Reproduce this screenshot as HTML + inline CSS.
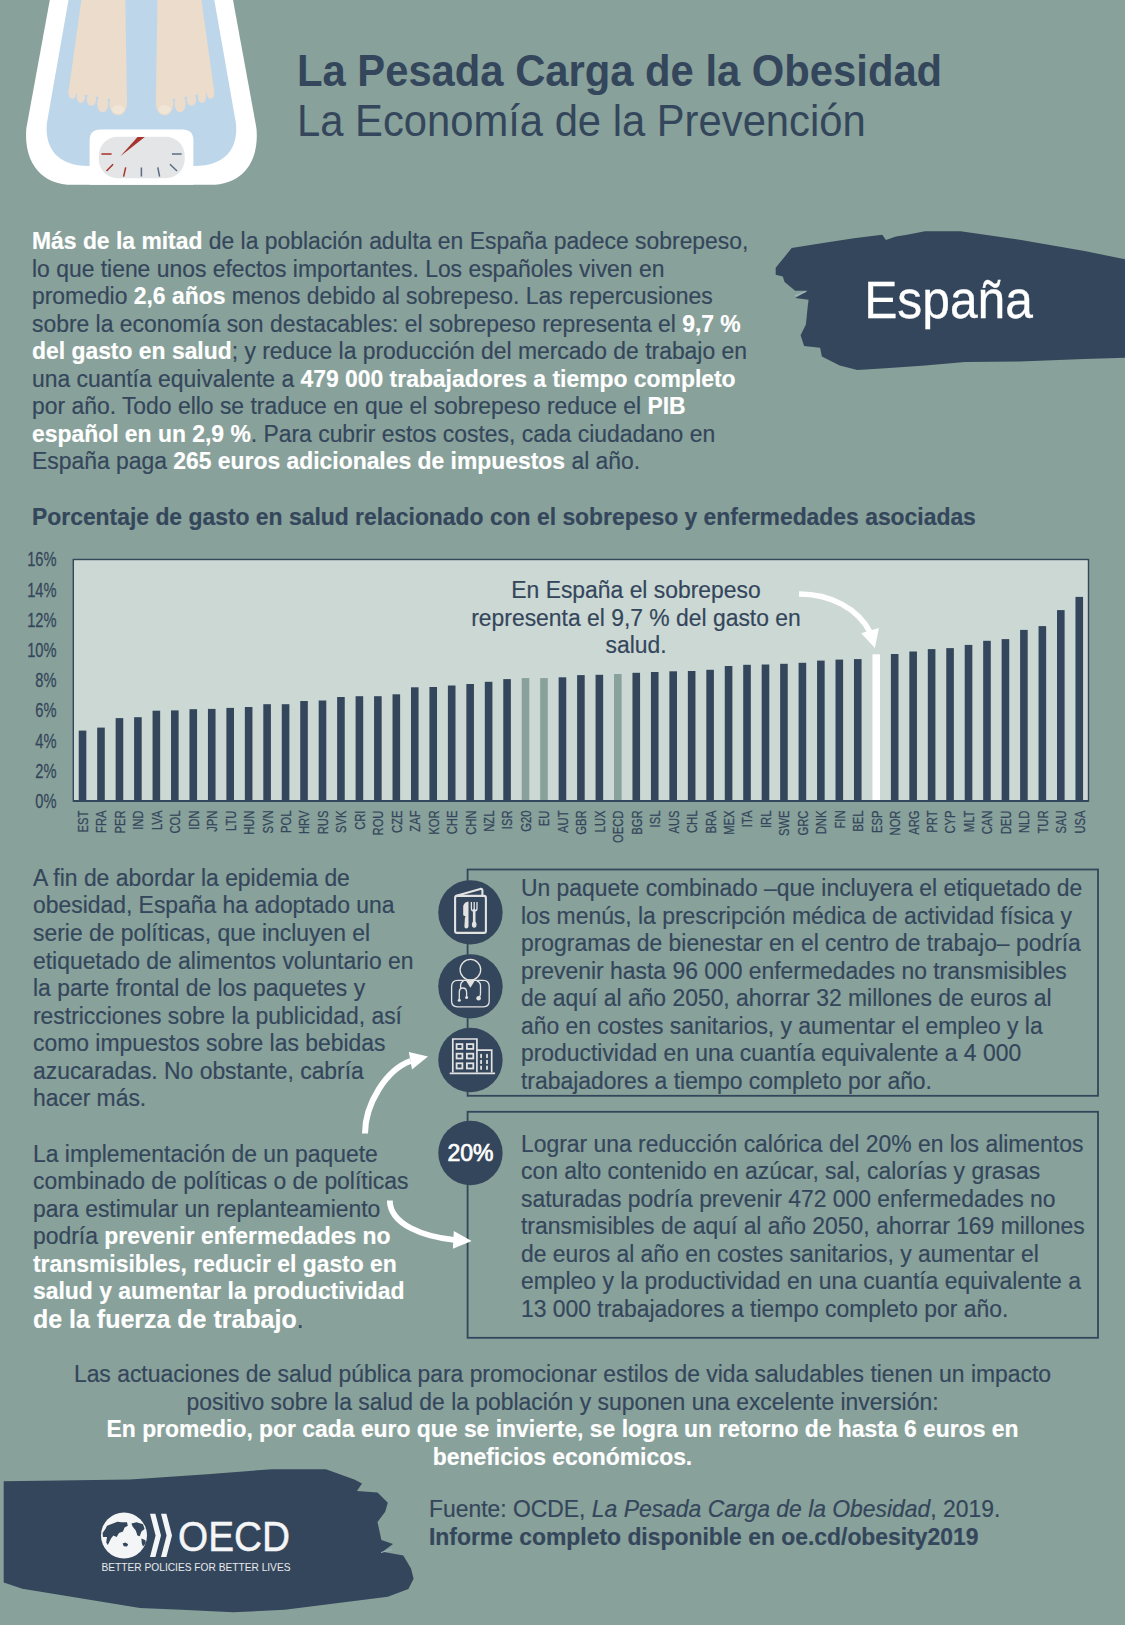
<!DOCTYPE html>
<html lang="es">
<head>
<meta charset="utf-8">
<title>La Pesada Carga de la Obesidad - España</title>
<style>
html,body{margin:0;padding:0;}
body{width:1125px;height:1625px;overflow:hidden;background:#88a19a;position:relative;font-family:"Liberation Sans",Arial,sans-serif;color:#34465b;}
.abs{position:absolute;}
b,.w{color:#fff;font-weight:bold;}
.sx{transform:scaleX(0.939);transform-origin:0 0;}
.sxt{transform:scaleX(0.924) !important;}
#t1{left:297px;top:46.2px;font-size:45.2px;font-weight:bold;white-space:nowrap;line-height:50px;}
#t2{left:297px;top:95.9px;font-size:45.2px;white-space:nowrap;line-height:50px;}
.p{font-size:24.39px;line-height:27.5px;white-space:nowrap;-webkit-text-stroke:0.2px currentColor;}
#p1{left:32.3px;top:227.4px;}
#ctitle{left:32.2px;top:503px;font-size:24.39px;line-height:27.5px;font-weight:bold;white-space:nowrap;}
#p2{left:33px;top:863.9px;line-height:27.55px;}
#p3{left:33px;top:1139.7px;line-height:27.5px;}
#bt1{left:520.5px;top:874px;}
#bt2{left:520.5px;top:1129.7px;}
#bottom,#src,#ctitle,.ann{-webkit-text-stroke:0.2px currentColor;}
#bottom{left:0;width:1125px;top:1360px;text-align:center;font-size:24.39px;line-height:27.5px;transform-origin:562.5px 0;}
#src{left:429px;top:1495.3px;font-size:24.39px;line-height:27.4px;white-space:nowrap;}
.ann{transform-origin:200px 0 !important;}
.yl{font-size:19.3px;fill:#34465b;stroke:#34465b;stroke-width:0.25px;font-family:"Liberation Sans",Arial,sans-serif;}
.xl{font-size:15px;fill:#34465b;stroke:#34465b;stroke-width:0.25px;font-family:"Liberation Sans",Arial,sans-serif;}
</style>
</head>
<body>
<!-- scale illustration -->
<svg class="abs" style="left:0;top:0" width="280" height="200" viewBox="0 0 280 200">
  <path d="M49.8,0 L233,0 L256.4,128 C259.5,160 244,184.8 210,184.8 L73,184.8 C39,184.8 23.5,160 26.4,128 Z" fill="#fff"/>
  <path d="M68.5,0 L214.3,0 L235.9,123 C238.5,148 226,166 194,166 L89,166 C57,166 44.5,148 46.9,123 Z" fill="#bed6ea"/>
  <g id="foot" fill="#ebdccb">
    <path d="M157.5,0 L201.4,0 L214.3,92 L155.8,102 Z"/>
    <ellipse cx="164.6" cy="104" rx="8.8" ry="11.2"/>
    <ellipse cx="180.1" cy="103.5" rx="5.6" ry="8.8"/>
    <ellipse cx="191.4" cy="99.3" rx="4.7" ry="6.5"/>
    <ellipse cx="202" cy="96.8" rx="4.1" ry="6.2"/>
    <ellipse cx="210.5" cy="93.2" rx="3.8" ry="5.6"/>
    <ellipse cx="164.6" cy="109.5" rx="6.2" ry="4.2" fill="#f1e5d8"/>
  </g>
  <use href="#foot" transform="translate(282.8,0) scale(-1,1)"/>
  <path d="M89.6,184.8 V140.6 Q89.6,129.6 100.6,129.6 H182.4 Q193.4,129.6 193.4,140.6 V184.8 Z" fill="#fff"/>
  <rect x="98.8" y="136.8" width="85.9" height="41.4" rx="19" fill="#e4e5e7"/>
  <g stroke-width="1.5" stroke-linecap="butt">
    <path d="M101.4,154.1 H111.6 M106.5,171 L113.1,164.2 M123.6,176.6 L125.7,167.4" stroke="#a8322d"/>
    <path d="M141.4,176.6 V167.4 M159.6,176.6 L157.8,167.4 M177,171 L170,164.2 M171.9,154.1 H181.6" stroke="#5b6d84"/>
  </g>
  <path d="M120.3,156.2 L137.6,136.9 L144.8,136.9 Z" fill="#a8322d"/>
</svg>

<div id="t1" class="abs sx sxt">La Pesada Carga de la Obesidad</div>
<div id="t2" class="abs sx sxt">La Economía de la Prevención</div>


<!-- España brush -->
<svg class="abs" style="left:760px;top:225px" width="365" height="150" viewBox="760 225 365 150">
  <path fill="#34465b" d="M791.7,248.1 L818.3,243.7 L853.9,238.3 L882.3,234.8 L885.9,240.1 L896,236.5 L907.2,234.8 L925,231.2 L960.6,231.2 L1019.6,239.7 L1084.5,251.1 L1125,259.2 L1125,357.8 L1084.5,359 L1019.6,361.6 L965,361.9 L925,365.4 L889.4,368.1 L857.4,369.9 L839.7,365.4 L821.9,356.6 L820.1,347.7 L804.1,345.9 L800.6,335.2 L805.9,324.6 L807.7,306.8 L808.6,299.7 L795.2,297.9 L807.7,290.8 L795.2,290.8 L784.6,281.9 L782.8,276.6 L775.7,274.8 L775.7,267.7 Z"/>
  <path d="M795,296 L806,291.5" stroke="#aebfc9" stroke-width="1"/>
</svg>
<div class="abs" style="left:864px;top:269.8px;font-size:52.4px;line-height:60px;color:#fff;white-space:nowrap;transform:scaleX(0.949);transform-origin:4px 0;-webkit-text-stroke:0.35px #fff;">España</div>

<div id="p1" class="abs sx p"><b>Más de la mitad</b> de la población adulta en España padece sobrepeso,<br>lo que tiene unos efectos importantes. Los españoles viven en<br>promedio <b>2,6 años</b> menos debido al sobrepeso. Las repercusiones<br>sobre la economía son destacables: el sobrepeso representa el <b>9,7 %</b><br><b>del gasto en salud</b>; y reduce la producción del mercado de trabajo en<br>una cuantía equivalente a <b>479 000 trabajadores a tiempo completo</b><br>por año. Todo ello se traduce en que el sobrepeso reduce el <b>PIB</b><br><b>español en un 2,9 %</b>. Para cubrir estos costes, cada ciudadano en<br>España paga <b>265 euros adicionales de impuestos</b> al año.</div>

<!--CHART-->
<svg class="abs" style="left:0;top:540px" width="1125" height="310" viewBox="0 540 1125 310">
<rect x="73.30" y="559.50" width="1015.20" height="241.50" fill="#ccd8d4" stroke="#34465b" stroke-width="1.4"/>
<rect x="78.73" y="730.6" width="7.6" height="70.4" fill="#34465b"/>
<rect x="97.19" y="727.6" width="7.6" height="73.4" fill="#34465b"/>
<rect x="115.65" y="718.1" width="7.6" height="82.9" fill="#34465b"/>
<rect x="134.10" y="717.2" width="7.6" height="83.8" fill="#34465b"/>
<rect x="152.56" y="710.7" width="7.6" height="90.3" fill="#34465b"/>
<rect x="171.02" y="710.4" width="7.6" height="90.6" fill="#34465b"/>
<rect x="189.48" y="709.2" width="7.6" height="91.8" fill="#34465b"/>
<rect x="207.94" y="708.9" width="7.6" height="92.1" fill="#34465b"/>
<rect x="226.39" y="707.9" width="7.6" height="93.1" fill="#34465b"/>
<rect x="244.85" y="707.0" width="7.6" height="94.0" fill="#34465b"/>
<rect x="263.31" y="704.2" width="7.6" height="96.8" fill="#34465b"/>
<rect x="281.77" y="704.2" width="7.6" height="96.8" fill="#34465b"/>
<rect x="300.23" y="701.0" width="7.6" height="100.0" fill="#34465b"/>
<rect x="318.69" y="700.5" width="7.6" height="100.5" fill="#34465b"/>
<rect x="337.14" y="697.0" width="7.6" height="104.0" fill="#34465b"/>
<rect x="355.60" y="696.2" width="7.6" height="104.8" fill="#34465b"/>
<rect x="374.06" y="696.2" width="7.6" height="104.8" fill="#34465b"/>
<rect x="392.52" y="694.3" width="7.6" height="106.7" fill="#34465b"/>
<rect x="410.98" y="687.3" width="7.6" height="113.7" fill="#34465b"/>
<rect x="429.43" y="687.0" width="7.6" height="114.0" fill="#34465b"/>
<rect x="447.89" y="685.5" width="7.6" height="115.5" fill="#34465b"/>
<rect x="466.35" y="684.0" width="7.6" height="117.0" fill="#34465b"/>
<rect x="484.81" y="681.8" width="7.6" height="119.2" fill="#34465b"/>
<rect x="503.27" y="679.1" width="7.6" height="121.9" fill="#34465b"/>
<rect x="521.73" y="678.1" width="7.6" height="122.9" fill="#88a19a"/>
<rect x="540.18" y="678.1" width="7.6" height="122.9" fill="#88a19a"/>
<rect x="558.64" y="677.3" width="7.6" height="123.7" fill="#34465b"/>
<rect x="577.10" y="675.1" width="7.6" height="125.9" fill="#34465b"/>
<rect x="595.56" y="674.8" width="7.6" height="126.2" fill="#34465b"/>
<rect x="614.02" y="674.0" width="7.6" height="127.0" fill="#88a19a"/>
<rect x="632.47" y="672.8" width="7.6" height="128.2" fill="#34465b"/>
<rect x="650.93" y="672.0" width="7.6" height="129.0" fill="#34465b"/>
<rect x="669.39" y="671.3" width="7.6" height="129.7" fill="#34465b"/>
<rect x="687.85" y="671.0" width="7.6" height="130.0" fill="#34465b"/>
<rect x="706.31" y="669.8" width="7.6" height="131.2" fill="#34465b"/>
<rect x="724.77" y="666.0" width="7.6" height="135.0" fill="#34465b"/>
<rect x="743.22" y="664.8" width="7.6" height="136.2" fill="#34465b"/>
<rect x="761.68" y="664.5" width="7.6" height="136.5" fill="#34465b"/>
<rect x="780.14" y="663.8" width="7.6" height="137.2" fill="#34465b"/>
<rect x="798.60" y="662.8" width="7.6" height="138.2" fill="#34465b"/>
<rect x="817.06" y="660.6" width="7.6" height="140.4" fill="#34465b"/>
<rect x="835.51" y="659.6" width="7.6" height="141.4" fill="#34465b"/>
<rect x="853.97" y="659.1" width="7.6" height="141.9" fill="#34465b"/>
<rect x="872.43" y="654.3" width="7.6" height="146.7" fill="#ffffff"/>
<rect x="890.89" y="654.0" width="7.6" height="147.0" fill="#34465b"/>
<rect x="909.35" y="651.5" width="7.6" height="149.5" fill="#34465b"/>
<rect x="927.81" y="649.1" width="7.6" height="151.9" fill="#34465b"/>
<rect x="946.26" y="648.1" width="7.6" height="152.9" fill="#34465b"/>
<rect x="964.72" y="644.9" width="7.6" height="156.1" fill="#34465b"/>
<rect x="983.18" y="640.8" width="7.6" height="160.2" fill="#34465b"/>
<rect x="1001.64" y="639.1" width="7.6" height="161.9" fill="#34465b"/>
<rect x="1020.10" y="629.9" width="7.6" height="171.1" fill="#34465b"/>
<rect x="1038.55" y="626.1" width="7.6" height="174.9" fill="#34465b"/>
<rect x="1057.01" y="610.1" width="7.6" height="190.9" fill="#34465b"/>
<rect x="1075.47" y="596.9" width="7.6" height="204.1" fill="#34465b"/>
<line x1="73.30" y1="801.00" x2="1088.50" y2="801.00" stroke="#34465b" stroke-width="1.8"/>
<text transform="translate(56.5 807.90) scale(0.76 1)" text-anchor="end" class="yl">0%</text>
<text transform="translate(56.5 777.71) scale(0.76 1)" text-anchor="end" class="yl">2%</text>
<text transform="translate(56.5 747.52) scale(0.76 1)" text-anchor="end" class="yl">4%</text>
<text transform="translate(56.5 717.34) scale(0.76 1)" text-anchor="end" class="yl">6%</text>
<text transform="translate(56.5 687.15) scale(0.76 1)" text-anchor="end" class="yl">8%</text>
<text transform="translate(56.5 656.96) scale(0.76 1)" text-anchor="end" class="yl">10%</text>
<text transform="translate(56.5 626.77) scale(0.76 1)" text-anchor="end" class="yl">12%</text>
<text transform="translate(56.5 596.59) scale(0.76 1)" text-anchor="end" class="yl">14%</text>
<text transform="translate(56.5 566.40) scale(0.76 1)" text-anchor="end" class="yl">16%</text>
<text transform="translate(87.93 810.5) rotate(-90) scale(0.75 1)" text-anchor="end" class="xl">EST</text>
<text transform="translate(106.39 810.5) rotate(-90) scale(0.75 1)" text-anchor="end" class="xl">FRA</text>
<text transform="translate(124.85 810.5) rotate(-90) scale(0.75 1)" text-anchor="end" class="xl">PER</text>
<text transform="translate(143.30 810.5) rotate(-90) scale(0.75 1)" text-anchor="end" class="xl">IND</text>
<text transform="translate(161.76 810.5) rotate(-90) scale(0.75 1)" text-anchor="end" class="xl">LVA</text>
<text transform="translate(180.22 810.5) rotate(-90) scale(0.75 1)" text-anchor="end" class="xl">COL</text>
<text transform="translate(198.68 810.5) rotate(-90) scale(0.75 1)" text-anchor="end" class="xl">IDN</text>
<text transform="translate(217.14 810.5) rotate(-90) scale(0.75 1)" text-anchor="end" class="xl">JPN</text>
<text transform="translate(235.59 810.5) rotate(-90) scale(0.75 1)" text-anchor="end" class="xl">LTU</text>
<text transform="translate(254.05 810.5) rotate(-90) scale(0.75 1)" text-anchor="end" class="xl">HUN</text>
<text transform="translate(272.51 810.5) rotate(-90) scale(0.75 1)" text-anchor="end" class="xl">SVN</text>
<text transform="translate(290.97 810.5) rotate(-90) scale(0.75 1)" text-anchor="end" class="xl">POL</text>
<text transform="translate(309.43 810.5) rotate(-90) scale(0.75 1)" text-anchor="end" class="xl">HRV</text>
<text transform="translate(327.89 810.5) rotate(-90) scale(0.75 1)" text-anchor="end" class="xl">RUS</text>
<text transform="translate(346.34 810.5) rotate(-90) scale(0.75 1)" text-anchor="end" class="xl">SVK</text>
<text transform="translate(364.80 810.5) rotate(-90) scale(0.75 1)" text-anchor="end" class="xl">CRI</text>
<text transform="translate(383.26 810.5) rotate(-90) scale(0.75 1)" text-anchor="end" class="xl">ROU</text>
<text transform="translate(401.72 810.5) rotate(-90) scale(0.75 1)" text-anchor="end" class="xl">CZE</text>
<text transform="translate(420.18 810.5) rotate(-90) scale(0.75 1)" text-anchor="end" class="xl">ZAF</text>
<text transform="translate(438.63 810.5) rotate(-90) scale(0.75 1)" text-anchor="end" class="xl">KOR</text>
<text transform="translate(457.09 810.5) rotate(-90) scale(0.75 1)" text-anchor="end" class="xl">CHE</text>
<text transform="translate(475.55 810.5) rotate(-90) scale(0.75 1)" text-anchor="end" class="xl">CHN</text>
<text transform="translate(494.01 810.5) rotate(-90) scale(0.75 1)" text-anchor="end" class="xl">NZL</text>
<text transform="translate(512.47 810.5) rotate(-90) scale(0.75 1)" text-anchor="end" class="xl">ISR</text>
<text transform="translate(530.93 810.5) rotate(-90) scale(0.75 1)" text-anchor="end" class="xl">G20</text>
<text transform="translate(549.38 810.5) rotate(-90) scale(0.75 1)" text-anchor="end" class="xl">EU</text>
<text transform="translate(567.84 810.5) rotate(-90) scale(0.75 1)" text-anchor="end" class="xl">AUT</text>
<text transform="translate(586.30 810.5) rotate(-90) scale(0.75 1)" text-anchor="end" class="xl">GBR</text>
<text transform="translate(604.76 810.5) rotate(-90) scale(0.75 1)" text-anchor="end" class="xl">LUX</text>
<text transform="translate(623.22 810.5) rotate(-90) scale(0.75 1)" text-anchor="end" class="xl">OECD</text>
<text transform="translate(641.67 810.5) rotate(-90) scale(0.75 1)" text-anchor="end" class="xl">BGR</text>
<text transform="translate(660.13 810.5) rotate(-90) scale(0.75 1)" text-anchor="end" class="xl">ISL</text>
<text transform="translate(678.59 810.5) rotate(-90) scale(0.75 1)" text-anchor="end" class="xl">AUS</text>
<text transform="translate(697.05 810.5) rotate(-90) scale(0.75 1)" text-anchor="end" class="xl">CHL</text>
<text transform="translate(715.51 810.5) rotate(-90) scale(0.75 1)" text-anchor="end" class="xl">BRA</text>
<text transform="translate(733.97 810.5) rotate(-90) scale(0.75 1)" text-anchor="end" class="xl">MEX</text>
<text transform="translate(752.42 810.5) rotate(-90) scale(0.75 1)" text-anchor="end" class="xl">ITA</text>
<text transform="translate(770.88 810.5) rotate(-90) scale(0.75 1)" text-anchor="end" class="xl">IRL</text>
<text transform="translate(789.34 810.5) rotate(-90) scale(0.75 1)" text-anchor="end" class="xl">SWE</text>
<text transform="translate(807.80 810.5) rotate(-90) scale(0.75 1)" text-anchor="end" class="xl">GRC</text>
<text transform="translate(826.26 810.5) rotate(-90) scale(0.75 1)" text-anchor="end" class="xl">DNK</text>
<text transform="translate(844.71 810.5) rotate(-90) scale(0.75 1)" text-anchor="end" class="xl">FIN</text>
<text transform="translate(863.17 810.5) rotate(-90) scale(0.75 1)" text-anchor="end" class="xl">BEL</text>
<text transform="translate(881.63 810.5) rotate(-90) scale(0.75 1)" text-anchor="end" class="xl">ESP</text>
<text transform="translate(900.09 810.5) rotate(-90) scale(0.75 1)" text-anchor="end" class="xl">NOR</text>
<text transform="translate(918.55 810.5) rotate(-90) scale(0.75 1)" text-anchor="end" class="xl">ARG</text>
<text transform="translate(937.01 810.5) rotate(-90) scale(0.75 1)" text-anchor="end" class="xl">PRT</text>
<text transform="translate(955.46 810.5) rotate(-90) scale(0.75 1)" text-anchor="end" class="xl">CYP</text>
<text transform="translate(973.92 810.5) rotate(-90) scale(0.75 1)" text-anchor="end" class="xl">MLT</text>
<text transform="translate(992.38 810.5) rotate(-90) scale(0.75 1)" text-anchor="end" class="xl">CAN</text>
<text transform="translate(1010.84 810.5) rotate(-90) scale(0.75 1)" text-anchor="end" class="xl">DEU</text>
<text transform="translate(1029.30 810.5) rotate(-90) scale(0.75 1)" text-anchor="end" class="xl">NLD</text>
<text transform="translate(1047.75 810.5) rotate(-90) scale(0.75 1)" text-anchor="end" class="xl">TUR</text>
<text transform="translate(1066.21 810.5) rotate(-90) scale(0.75 1)" text-anchor="end" class="xl">SAU</text>
<text transform="translate(1084.67 810.5) rotate(-90) scale(0.75 1)" text-anchor="end" class="xl">USA</text>
</svg>
<!--/CHART-->


<!-- chart annotation -->
<div class="abs ann sx" style="left:436.3px;top:576.1px;width:400px;text-align:center;font-size:24.39px;line-height:27.4px;">En España el sobrepeso<br>representa el 9,7 % del gasto en<br>salud.</div>
<svg class="abs" style="left:780px;top:580px" width="110" height="80" viewBox="780 580 110 80">
  <path d="M799,594 C830,594 858,608 870.5,633" fill="none" stroke="#fff" stroke-width="5.6"/>
  <path d="M861.1,633.3 L878.9,628 L874.9,648 Z" fill="#fff"/>
</svg>

<div id="ctitle" class="abs sx">Porcentaje de gasto en salud relacionado con el sobrepeso y enfermedades asociadas</div>

<div id="p2" class="abs sx p">A fin de abordar la epidemia de<br>obesidad, España ha adoptado una<br>serie de políticas, que incluyen el<br>etiquetado de alimentos voluntario en<br>la parte frontal de los paquetes y<br>restricciones sobre la publicidad, así<br>como impuestos sobre las bebidas<br>azucaradas. No obstante, cabría<br>hacer más.</div>

<div id="p3" class="abs sx p">La implementación de un paquete<br>combinado de políticas o de políticas<br>para estimular un replanteamiento<br>podría <b>prevenir enfermedades no</b><br><b>transmisibles, reducir el gasto en</b><br><b>salud y aumentar la productividad</b><br><span style="position:relative;top:1.7px;font-size:26.6px;line-height:20px"><b>de la fuerza de trabajo</b>.</span></div>

<svg class="abs" style="left:460px;top:860px" width="650" height="490" viewBox="460 860 650 490">
  <rect x="467.6" y="869.5" width="630.4" height="226.3" fill="none" stroke="#34465b" stroke-width="1.8"/>
  <rect x="467.6" y="1111.8" width="630.4" height="226" fill="none" stroke="#34465b" stroke-width="1.8"/>
</svg>


<!-- icons -->
<svg class="abs" style="left:430px;top:870px" width="80" height="330" viewBox="430 870 80 330">
  <g fill="#34465b">
    <circle cx="470.45" cy="912.35" r="32.2"/>
    <circle cx="470.45" cy="986.35" r="32.2"/>
    <circle cx="470.45" cy="1060" r="32.2"/>
    <circle cx="470.45" cy="1152.95" r="32.2"/>
  </g>
  <g fill="none" stroke="#e2e2e2" stroke-width="2.1" stroke-linejoin="round">
    <rect x="455.1" y="895.9" width="30.8" height="37" rx="2"/>
    <path d="M455.6,896 L480.3,888.9 Q482.4,888.5 482.4,890.6 L482.4,895.5"/>
  </g>
  <g fill="#e2e2e2">
    <path d="M467.2,901.7 L468.5,901.7 L468.5,926.6 Q468.5,928.4 466.4,928.4 Q464.3,928.4 464.4,926.2 L464.9,918 L465.6,916.6 L463.2,915.2 L463.2,906.6 Q463.4,903.2 467.2,901.7 Z"/>
    <rect x="472.9" y="909" width="2.6" height="14"/>
    <ellipse cx="474.2" cy="924.6" rx="2.3" ry="3.2"/>
  </g>
  <path d="M471.4,902 V908.4 Q471.4,911 474.2,911 Q477,911 477,908.4 V902 M474.2,902 V910" fill="none" stroke="#e2e2e2" stroke-width="1.3"/>
  <g fill="none" stroke="#e2e2e2" stroke-width="1.3">
    <circle cx="470.4" cy="969.7" r="10.3"/>
    <path d="M457.8,980.4 H483 Q489.2,980.4 489.2,987 V1001 Q489.2,1006.8 483.4,1006.8 H457.4 Q451.6,1006.8 451.6,1001 V987 Q451.6,980.4 457.8,980.4 Z"/>
    <path d="M463.6,981 Q460.6,982 460.6,985.5 V988.5"/>
    <path d="M459.3,999.6 V992 Q459.3,988 462.9,988 Q466.6,988 466.6,992.5 V997"/>
    <path d="M476.8,981 Q480.5,982 480.5,986 V993.5 Q480.5,996 479,997.4"/>
  </g>
  <g fill="#e2e2e2">
    <path d="M465.9,980.6 L474.9,980.6 L470.4,987.8 Z"/>
    <circle cx="459.3" cy="1000.3" r="1.5"/>
    <circle cx="466.6" cy="997.6" r="1.5"/>
    <circle cx="478.6" cy="998.3" r="2.3"/>
  </g>
  <g fill="none" stroke="#e2e2e2" stroke-width="1.7">
    <path d="M452.8,1072.6 V1039 H476.9 V1072.6"/>
    <path d="M476.9,1050.2 H491.7 V1072.6"/>
    <path d="M449.7,1073.3 H495.1"/>
  </g>
  <g fill="none" stroke="#e2e2e2" stroke-width="1.8">
    <rect x="456.6" y="1044.1" width="5.8" height="4.8"/>
    <rect x="466.9" y="1044.1" width="6.4" height="4.8"/>
    <rect x="456.6" y="1053.7" width="5.8" height="4.8"/>
    <rect x="466.9" y="1053.7" width="6.4" height="4.8"/>
    <rect x="456.6" y="1063.3" width="5.8" height="5.2"/>
    <rect x="466.9" y="1063.3" width="6.4" height="5.2"/>
  </g>
  <g stroke="#e2e2e2" stroke-width="1.8" stroke-linecap="round">
    <path d="M481.1,1054.6 V1057.3 M487,1054.6 V1057.3 M481.1,1060.6 V1063.2 M487,1060.6 V1063.2 M481.1,1066.5 V1069.1 M487,1066.5 V1069.1"/>
  </g>
  <text x="470.4" y="1161.4" text-anchor="middle" fill="#fff" font-family="Liberation Sans, Arial, sans-serif" font-size="23" stroke="#fff" stroke-width="0.7">20%</text>
</svg>
<!-- curved arrows -->
<svg class="abs" style="left:350px;top:1040px" width="130" height="220" viewBox="350 1040 130 220">
  <path d="M365,1133.6 C365,1104 386,1070 410.5,1061" fill="none" stroke="#fff" stroke-width="6"/>
  <path d="M408.8,1052 L428,1056.4 L412,1069.6 Z" fill="#fff"/>
  <path d="M389.8,1200.5 C390,1225 425,1237 454,1239.8" fill="none" stroke="#fff" stroke-width="5.8"/>
  <path d="M453.8,1230.9 L471.6,1241.1 L452.9,1248.7 Z" fill="#fff"/>
</svg>

<div id="bt1" class="abs sx p">Un paquete combinado –que incluyera el etiquetado de<br>los menús, la prescripción médica de actividad física y<br>programas de bienestar en el centro de trabajo– podría<br>prevenir hasta 96 000 enfermedades no transmisibles<br>de aquí al año 2050, ahorrar 32 millones de euros al<br>año en costes sanitarios, y aumentar el empleo y la<br>productividad en una cuantía equivalente a 4 000<br>trabajadores a tiempo completo por año.</div>

<div id="bt2" class="abs sx p">Lograr una reducción calórica del 20% en los alimentos<br>con alto contenido en azúcar, sal, calorías y grasas<br>saturadas podría prevenir 472 000 enfermedades no<br>transmisibles de aquí al año 2050, ahorrar 169 millones<br>de euros al año en costes sanitarios, y aumentar el<br>empleo y la productividad en una cuantía equivalente a<br>13 000 trabajadores a tiempo completo por año.</div>

<div id="bottom" class="abs sx">Las actuaciones de salud pública para promocionar estilos de vida saludables tienen un impacto<br>positivo sobre la salud de la población y suponen una excelente inversión:<br><b>En promedio, por cada euro que se invierte, se logra un retorno de hasta 6 euros en<br>beneficios económicos.</b></div>


<!-- OECD brush + logo -->
<svg class="abs" style="left:0;top:1460px" width="420" height="165" viewBox="0 1460 420 165">
  <path fill="#34465b" d="M3.7,1481.2 L60,1480.5 L130,1479.5 L207.3,1474.3 L271.8,1469.2 L325.9,1469.2 L354.3,1479.5 L362,1483.4 L356.9,1491.1 L377.5,1492.4 L387.8,1502.7 L385.2,1511.7 L377.5,1522 L381.4,1540.1 L393,1543.9 L382.6,1551.7 L403.3,1555.5 L411,1568.4 L413.6,1578.7 L408.4,1589 L387.8,1596.8 L336.2,1603.2 L284.7,1609.7 L233.1,1612.3 L181.6,1609.7 L140,1608 L22.4,1588.8 L3.7,1582.6 Z"/>
  <path d="M381,1552.5 L392,1549.5" stroke="#9fb2bd" stroke-width="1"/>
  <circle cx="124" cy="1535.4" r="23" fill="#f4f5f7"/>
  <g fill="#34465b">
    <path d="M111,1524.2 L117.4,1521.8 L121.4,1522.2 L127,1522.2 L127.8,1525.8 L124.6,1527.4 L123,1531.4 L119,1533 L116.6,1537 L113.4,1535.4 L111,1538.6 L107.8,1545 L106.2,1542.6 L107,1537 L103,1537 L102.6,1533 L105.4,1529 L107,1525.8 Z"/>
    <path d="M131.4,1523.4 L136.6,1522.2 L143,1524.2 L144.6,1529 L141.4,1531.4 L139.8,1536.2 L137.4,1535.4 L135.8,1530.6 L132.6,1526.6 Z"/>
    <path d="M141.4,1538.6 L145.4,1540.2 L145.8,1543.4 L143,1546.6 L141.8,1543.4 Z"/>
    <path d="M122.6,1543.4 L125.4,1542.6 L128.2,1544.2 L127,1546.6 L123.8,1546.2 Z"/>
  </g>
  <path fill="#f4f5f7" d="M150,1513.8 L155.4,1513.8 L161,1535.4 L155.4,1557 L150,1557 L155.6,1535.4 Z M161,1513.8 L166.4,1513.8 L172,1535.4 L166.4,1557 L161,1557 L166.6,1535.4 Z"/>
  <text x="178" y="1550.9" fill="#f4f5f7" stroke="#f4f5f7" stroke-width="0.5" font-family="Liberation Sans, Arial, sans-serif" font-size="43" textLength="112" lengthAdjust="spacingAndGlyphs">OECD</text>
  <text x="101.5" y="1570.5" fill="#e8eaee" font-family="Liberation Sans, Arial, sans-serif" font-size="10.8" textLength="189" lengthAdjust="spacingAndGlyphs">BETTER POLICIES FOR BETTER LIVES</text>
</svg>

<div id="src" class="abs sx">Fuente: OCDE, <i>La Pesada Carga de la Obesidad</i>, 2019.<br><strong>Informe completo disponible en oe.cd/obesity2019</strong></div>

</body>
</html>
